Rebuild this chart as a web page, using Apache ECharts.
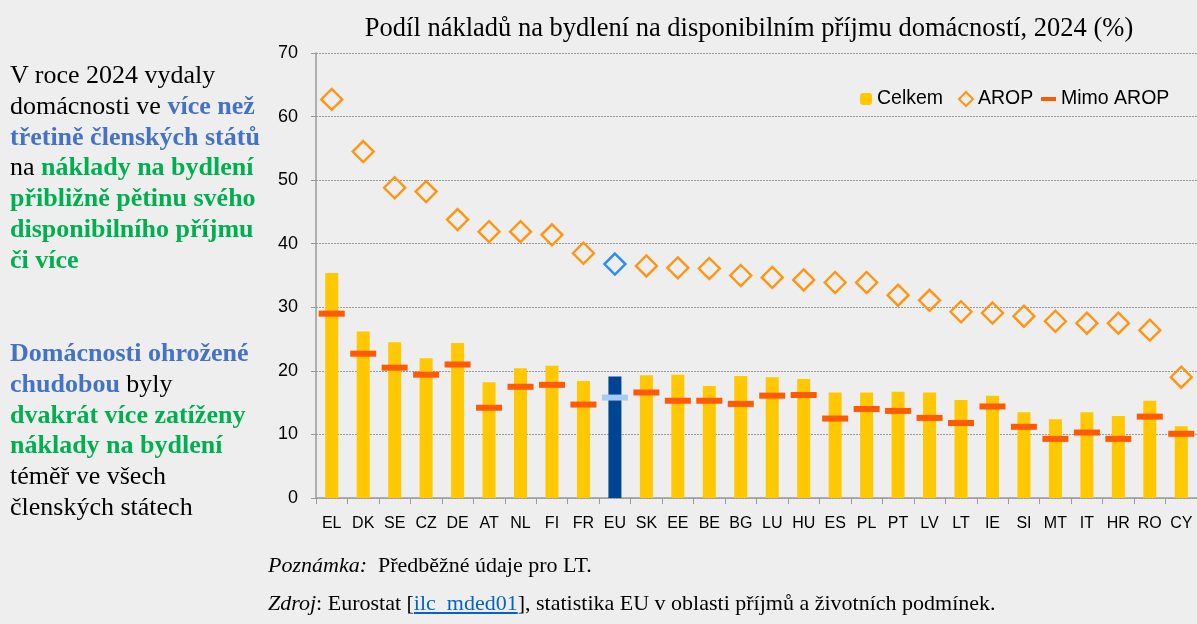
<!DOCTYPE html>
<html>
<head>
<meta charset="UTF-8">
<title>Podíl nákladů na bydlení</title>
<script src="https://cdn.jsdelivr.net/npm/echarts@6/dist/echarts.min.js"></script>
<style>
    html, body { margin: 0; padding: 0; background: #eeeeee; }
    #wrap { position: relative; width: 1197px; height: 624px; overflow: hidden; background: #eeeeee; }
    #chart { position: absolute; left: 0; top: 0; width: 1197px; height: 624px; }
    .side { position: absolute; left: 10px; font-family: "Liberation Serif", serif; font-size: 26px; line-height: 30.8px; color: #000; white-space: nowrap; }
    .blue { color: #4472c4; font-weight: bold; }
    .green { color: #00b050; font-weight: bold; }
    .note { position: absolute; left: 268px; font-family: "Liberation Serif", serif; font-size: 22px; line-height: 26px; color: #000; white-space: nowrap; }
    .note a { color: #0563c1; text-decoration: underline; }
</style>
</head>
<body>
<div id="wrap">
    <div id="chart"></div>

    <!-- levý text -->
    <div class="side" style="top:60px;">
        V roce 2024 vydaly<br>
        domácnosti ve <span class="blue">více než</span><br>
        <span class="blue">třetině členských států</span><br>
        na <span class="green">náklady na bydlení</span><br>
        <span class="green">přibližně pětinu svého</span><br>
        <span class="green">disponibilního příjmu</span><br>
        <span class="green">či více</span>
    </div>
    <div class="side" style="top:338px;">
        <span class="blue">Domácnosti ohrožené</span><br>
        <span class="blue">chudobou</span> byly<br>
        <span class="green">dvakrát více zatíženy</span><br>
        <span class="green">náklady na bydlení</span><br>
        téměř ve všech<br>
        členských státech
    </div>

    <!-- poznámky -->
    <div class="note" style="top:552px;"><i>Poznámka:</i>&nbsp; Předběžné údaje pro LT.</div>
    <div class="note" style="top:590px;"><i>Zdroj</i>: Eurostat [<a>ilc_mded01</a>], statistika EU v oblasti příjmů a životních podmínek.</div>
</div>

<script type="text/javascript">
    // data
    var countries = ['EL','DK','SE','CZ','DE','AT','NL','FI','FR','EU','SK','EE','BE','BG','LU','HU','ES','PL','PT','LV','LT','IE','SI','MT','IT','HR','RO','CY'];
    var celkem = [35.4,26.2,24.5,22.0,24.4,18.2,20.4,20.8,18.4,19.1,19.3,19.4,17.6,19.2,19.0,18.7,16.6,16.6,16.7,16.6,15.4,16.1,13.5,12.4,13.5,12.9,15.3,11.3];
    var arop = [62.7,54.5,48.8,48.2,43.8,41.9,41.9,41.4,38.5,36.8,36.5,36.2,36.1,35.0,34.7,34.3,33.9,33.9,31.9,31.1,29.3,29.1,28.6,27.8,27.5,27.5,26.4,19.0];
    var mimoArop = [29.0,22.7,20.5,19.4,21.0,14.2,17.5,17.8,14.7,15.8,16.6,15.3,15.3,14.8,16.1,16.2,12.5,14.0,13.7,12.6,11.8,14.4,11.2,9.3,10.3,9.3,12.8,10.1];
    var yTicks = [0,10,20,30,40,50,60,70];

    var euIdx = countries.indexOf('EU');

    // EU má vlastní barvu
    function withEU(arr, euStyle) {
        return arr.map(function (v, i) {
            return i === euIdx ? { value: v, itemStyle: euStyle } : v;
        });
    }

    var myChart = echarts.init(document.getElementById('chart'));

    var legendFont = { fontFamily: 'Liberation Sans, Arial, sans-serif', fontSize: 19.5, color: '#000' };

    var option = {
        backgroundColor: 'transparent',
        animation: false,
        title: {
            text: 'Podíl nákladů na bydlení na disponibilním příjmu domácností, 2024 (%)',
            left: 744,
            textAlign: 'center',
            top: 11,
            textStyle: { fontFamily: 'Liberation Serif, serif', fontWeight: 'normal', fontSize: 26.5, color: '#000' }
        },
        legend: [
            {
                data: ['Celkem'], left: 860, top: 89, padding: 0,
                itemWidth: 12, itemHeight: 12, itemGap: 0,
                textStyle: legendFont
            },
            {
                data: ['AROP'], left: 958, top: 89, padding: 0,
                itemWidth: 14, itemHeight: 14, itemGap: 0,
                textStyle: legendFont
            },
            {
                data: ['Mimo AROP'], left: 1041, top: 89, padding: 0,
                itemWidth: 15, itemHeight: 4, itemGap: 0,
                textStyle: legendFont
            }
        ],
        grid: { left: 316, right: -4, top: 53, bottom: 126 },
        xAxis: {
            type: 'category',
            data: countries,
            boundaryGap: true,
            axisLine: { lineStyle: { color: '#9a9a9a', width: 1.5 } },
            axisTick: { show: true, length: 6, lineStyle: { color: '#9a9a9a' } },
            axisLabel: { interval: 0, margin: 18, hideOverlap: false, fontFamily: 'Liberation Sans, Arial, sans-serif', fontSize: 16, color: '#000' }
        },
        yAxis: {
            type: 'value',
            min: yTicks[0],
            max: yTicks[yTicks.length - 1],
            interval: 10,
            axisLine: { show: true, lineStyle: { color: '#9a9a9a', width: 1.5 } },
            axisTick: { show: true, length: 5, lineStyle: { color: '#9a9a9a' } },
            axisLabel: { margin: 18, fontFamily: 'Liberation Sans, Arial, sans-serif', fontSize: 18, color: '#000' },
            splitLine: { lineStyle: { color: '#9a9a9a', type: [2, 1], width: 1 } }
        },
        series: [
            {
                name: 'Celkem',
                type: 'bar',
                barWidth: 13,
                itemStyle: { color: '#ffc800' },
                data: withEU(celkem, { color: '#004494' }),
                z: 2
            },
            {
                name: 'Mimo AROP',
                type: 'scatter',
                symbol: 'rect',
                symbolSize: [26, 6],
                itemStyle: { color: '#ff5a00', opacity: 1 },
                data: withEU(mimoArop, { color: '#a8cbf3' }),
                z: 3
            },
            {
                name: 'AROP',
                type: 'scatter',
                symbol: 'diamond',
                symbolSize: [21, 21],
                itemStyle: { color: 'rgba(0,0,0,0)', borderColor: '#ff9510', borderWidth: 2.4, opacity: 1 },
                data: withEU(arop, { color: 'rgba(0,0,0,0)', borderColor: '#2b8cf5', borderWidth: 2.4 }),
                z: 4
            }
        ]
    };

    myChart.setOption(option);
</script>
</body>
</html>
